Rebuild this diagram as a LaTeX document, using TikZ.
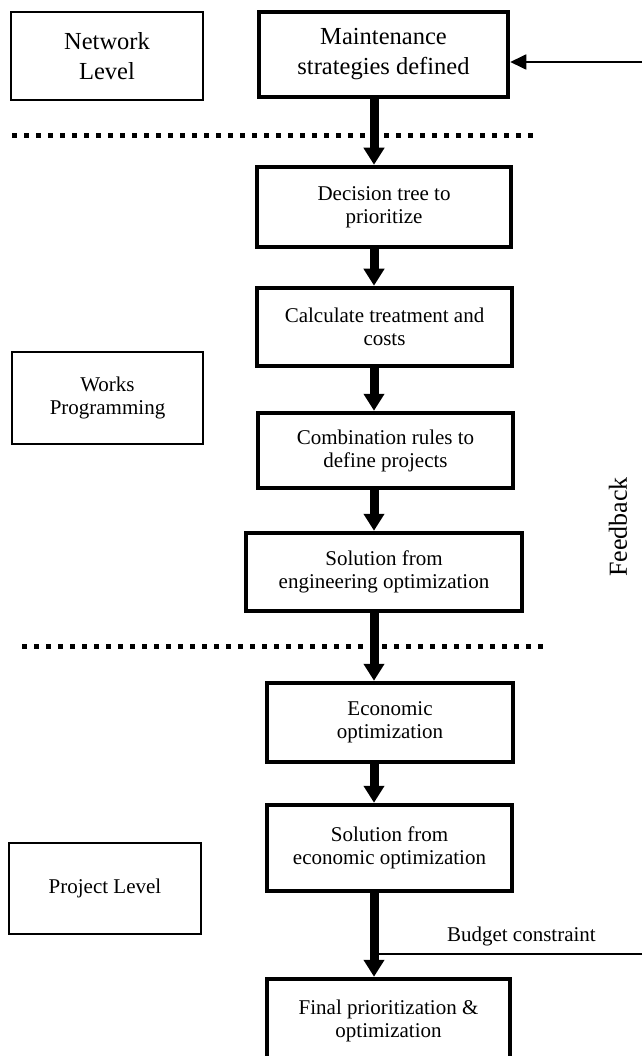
\documentclass[tikz,border=0pt]{standalone}
\usepackage{fontspec}
\setmainfont{Liberation Serif}
\usetikzlibrary{arrows.meta}
\begin{document}
\begin{tikzpicture}[x=1pt,y=-1pt,
    lvl/.style={draw,line width=1.8pt,align=center,font=\fontsize{21}{23}\selectfont},
    stepbox/.style={draw,line width=4.5pt,align=center,font=\fontsize{21}{23}\selectfont},
    big/.style={font=\fontsize{24.5}{30}\selectfont},
    flow/.style={line width=9pt,-{Triangle[width=20pt,length=17pt]}},
    thin/.style={line width=1.8pt},
    sep/.style={line width=5pt,dash pattern=on 5pt off 7pt}]
        \useasboundingbox (0,0) rectangle (642,1056);

        \node (net)     [lvl,big,minimum width=192pt,minimum height=88pt]     at (107,56)      {Network\\Level};
        \node (maint)   [stepbox,big,minimum width=249pt,minimum height=85pt] at (383.5,54.5)  {Maintenance\\strategies defined};
        \node (dec)     [stepbox,minimum width=254pt,minimum height=80pt]     at (384,207)     {Decision tree to\\prioritize};
        \node (calc)    [stepbox,minimum width=255pt,minimum height=78pt]     at (384.5,327)   {Calculate treatment and\\costs};
        \node (works)   [lvl,minimum width=191pt,minimum height=92pt]         at (107.5,398)   {Works\\Programming};
        \node (comb)    [stepbox,minimum width=255pt,minimum height=75pt]     at (385.5,450.5) {Combination rules to\\define projects};
        \node (soleng)  [stepbox,minimum width=276pt,minimum height=78pt]     at (384,572)     {Solution from\\engineering optimization};
        \node (econ)    [stepbox,minimum width=246pt,minimum height=79pt]     at (390,722.5)   {Economic\\optimization};
        \node (solecon) [stepbox,minimum width=245pt,minimum height=86pt]     at (389.5,848)   {Solution from\\economic optimization};
        \node (proj)    [lvl,minimum width=192pt,minimum height=91pt]         at (105,888.5)   {Project Level};
        \node (final)   [stepbox,minimum width=243pt,minimum height=83pt]     at (388.5,1020.5) {Final prioritization \&\\optimization};

        \node (fbtext) [rotate=90,font=\fontsize{26}{30}\selectfont] at (618,527) {Feedback};

        \draw [sep] (12,136) -- (534,136);
        \draw [sep] (22,646) -- (543,646);

        \coordinate (spine)  at (374,0);
        \coordinate (fb)     at (642,62);
        \coordinate (budget) at (642,954);

        \draw [thin,-{Triangle[width=15pt,length=16pt]}] (fb) -- (fb -| maint.east);
        \draw [thin] (budget) -- node [pos=0.45,above=7pt,inner sep=0pt,font=\fontsize{21}{23}\selectfont] {Budget constraint} (budget -| spine);

        \draw [flow] (maint.south -| spine)   -- (dec.north -| spine);
        \draw [flow] (dec.south -| spine)     -- (calc.north -| spine);
        \draw [flow] (calc.south -| spine)    -- (comb.north -| spine);
        \draw [flow] (comb.south -| spine)    -- (soleng.north -| spine);
        \draw [flow] (soleng.south -| spine)  -- (econ.north -| spine);
        \draw [flow] (econ.south -| spine)    -- (solecon.north -| spine);
        \draw [flow] (solecon.south -| spine) -- (final.north -| spine);
      \end{tikzpicture}
\end{document}
